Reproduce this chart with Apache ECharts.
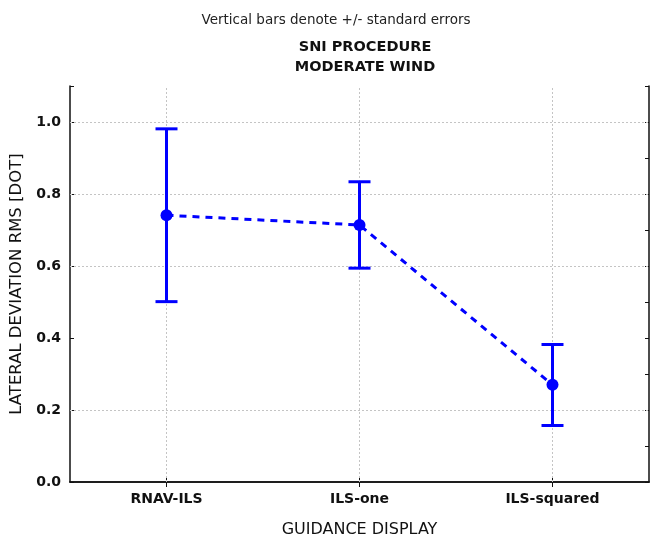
<!DOCTYPE html>
<html>
<head>
<meta charset="utf-8">
<script src="https://cdn.jsdelivr.net/npm/echarts@6/dist/echarts.min.js"></script>
<style>html,body{margin:0;padding:0;background:#fff}#c{width:652px;height:543px}</style>
</head>
<body>
<div id="c"></div>
<script>
const categories = ['RNAV-ILS', 'ILS-one', 'ILS-squared'];
const means = [0.741, 0.714, 0.270];
const lowerBounds = [0.501, 0.594, 0.157];
const upperBounds = [0.981, 0.834, 0.382];
const gridValues = [0.2, 0.6, 0.8, 1.0];
const yTickLabels = ['0.0', '0.2', '0.4', '0.6', '0.8', '1.0'];

const BLUE = '#0000ff';
const FONT = '"DejaVu Sans", sans-serif';
const chart = echarts.init(document.getElementById('c'), null, {renderer: 'canvas'});

const errData = categories.map((c, i) => [i, lowerBounds[i], upperBounds[i]]);

const option = {
  backgroundColor: '#fff',
  animation: false,
  title: [
    {text: 'Vertical bars denote +/- standard errors', left: 331, top: 8, textAlign: 'center',
     textStyle: {fontFamily: FONT, fontSize: 13.5, fontWeight: 'normal', color: '#222'}},
    {text: 'SNI PROCEDURE\nMODERATE WIND', left: 360, top: 32, textAlign: 'center',
     textStyle: {fontFamily: FONT, fontSize: 14.5, fontWeight: 'bold', color: '#111', lineHeight: 20}}
  ],
  grid: {left: 70, right: 3, top: 86, bottom: 60, containLabel: false},
  xAxis: [
    {type: 'category', data: categories, boundaryGap: true, position: 'bottom',
     axisLine: {show: true, lineStyle: {color: '#111', width: 1.5}},
     axisTick: {show: true, inside: true, alignWithLabel: true, length: 5, lineStyle: {color: '#111'}},
     axisLabel: {margin: 10, fontFamily: FONT, fontSize: 14, fontWeight: 'bold', color: '#111'},
     splitLine: {show: false},
     name: 'GUIDANCE DISPLAY', nameLocation: 'middle', nameGap: 40,
     nameTextStyle: {fontFamily: FONT, fontSize: 16, color: '#111'}},
    {type: 'category', data: categories, boundaryGap: true, position: 'top',
     axisLine: {show: true, lineStyle: {color: '#111', width: 1.5}},
     axisTick: {show: true, inside: true, alignWithLabel: true, length: 5, lineStyle: {color: '#111'}},
     axisLabel: {show: false}, splitLine: {show: false}}
  ],
  yAxis: [
    {type: 'value', min: 0, max: 1.1, interval: 0.2, position: 'left',
     axisLine: {show: true, lineStyle: {color: '#111', width: 1.5}},
     axisTick: {show: true, inside: true, length: 4, lineStyle: {color: '#111'}},
     axisLabel: {margin: 9, fontFamily: FONT, fontSize: 14, fontWeight: 'bold', color: '#111',
       formatter: v => { const i = Math.round(v / 0.2); return Math.abs(v - i * 0.2) < 1e-6 && yTickLabels[i] ? yTickLabels[i] : ''; }},
     splitLine: {show: false},
     name: 'LATERAL DEVIATION RMS [DOT]', nameLocation: 'middle', nameGap: 39,
     nameTextStyle: {fontFamily: FONT, fontSize: 16.5, color: '#111'}},
    {type: 'value', min: 0, max: 1.1, interval: 0.1, position: 'right',
     axisLine: {show: true, lineStyle: {color: '#111', width: 1.5}},
     axisTick: {show: true, inside: true, length: 4, lineStyle: {color: '#111'}},
     axisLabel: {show: false}, splitLine: {show: false}}
  ],
  series: [
    {
      type: 'line', data: [], xAxisIndex: 0, yAxisIndex: 0, z: 1,
      markLine: {
        silent: true, symbol: 'none', animation: false, z: 1,
        label: {show: false},
        lineStyle: {color: '#c4c4c4', width: 1, type: [2, 2]},
        data: gridValues.map(v => ({yAxis: v})).concat(categories.map(c => ({xAxis: c})))
      }
    },
    {
      type: 'custom', xAxisIndex: 0, yAxisIndex: 0, z: 4,
      data: errData,
      renderItem: function (params, api) {
        const x = api.value(0);
        const lo = api.coord([x, api.value(1)]);
        const hi = api.coord([x, api.value(2)]);
        const hw = 11;
        const style = {stroke: BLUE, lineWidth: 3, fill: null};
        return {
          type: 'group',
          children: [
            {type: 'line', shape: {x1: lo[0], y1: lo[1], x2: hi[0], y2: hi[1]}, style: style},
            {type: 'line', shape: {x1: lo[0] - hw, y1: lo[1], x2: lo[0] + hw, y2: lo[1]}, style: style},
            {type: 'line', shape: {x1: hi[0] - hw, y1: hi[1], x2: hi[0] + hw, y2: hi[1]}, style: style}
          ]
        };
      }
    },
    {
      type: 'line', data: means, xAxisIndex: 0, yAxisIndex: 0,
      symbol: 'circle', symbolSize: 12, z: 5,
      itemStyle: {color: BLUE},
      lineStyle: {color: BLUE, width: 3, type: [7, 6]}
    }
  ]
};
chart.setOption(option);
</script>
</body>
</html>
